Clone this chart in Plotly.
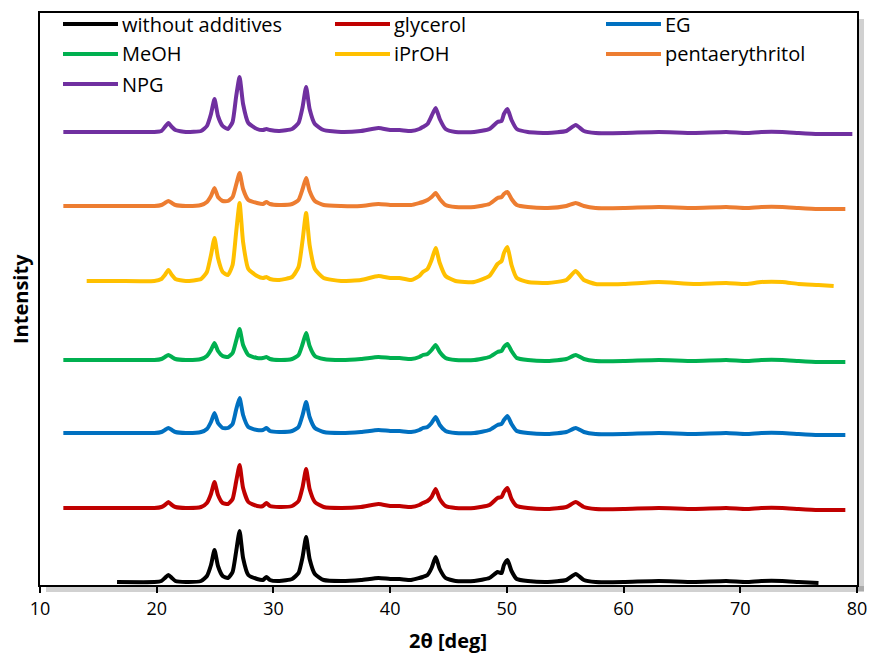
import plotly.graph_objects as go

# 2-theta sampling positions (deg)
two_theta = [12.0, 14.0, 16.6, 19.8, 20.4, 20.7, 21.0, 21.3, 21.6, 22.5,
             23.8, 24.3, 24.65, 24.95, 25.25, 25.65, 26.1, 26.5, 26.8, 27.1,
             27.4, 27.85, 28.6, 29.1, 29.4, 29.7, 30.5, 31.6, 32.15, 32.5,
             32.8, 33.1, 33.55, 34.3, 35.8, 37.5, 39.0, 40.0, 40.8, 41.8,
             42.5, 42.8, 43.2, 43.55, 43.9, 44.25, 44.75, 45.6, 47.2, 48.5,
             49.2, 49.55, 49.75, 50.05, 50.4, 50.85, 51.8, 53.5, 55.1, 55.9,
             56.6, 57.6, 60.0, 63.0, 66.0, 68.8, 70.5, 71.8, 73.6, 75.0,
             76.7, 78.0, 79.0, 79.6]

N = None
without_additives = [N, N, 3, 3, 4, 7, 10, 7, 4, 3,
                     4, 9, 20, 35, 19, 9, 7, 13, 33, 54,
                     27, 10, 6, 5, 8, 5, 4, 6, 12, 28,
                     48, 26, 11, 5, 4, 5, 7, 6, 6, 5,
                     7, 8, 10, 17, 28, 16, 7, 4, 4, 7,
                     13, 12, 20, 25, 14, 6, 4, 3, 5, 11,
                     5, 3, 3, 4, 3, 4, 3, 4, 4, 3,
                     2, N, N, N]
glycerol = [77, 77, 77, 77, 78, 80, 83, 80, 78, 77,
            78, 82, 91, 103, 90, 82, 81, 86, 103, 120,
            97, 83, 79, 79, 82, 79, 78, 79, 84, 98,
            116, 96, 83, 78, 77, 78, 81, 79, 79, 78,
            80, 82, 84, 88, 96, 86, 79, 77, 77, 80,
            87, 88, 93, 97, 86, 79, 77, 76, 78, 83,
            78, 76, 76, 77, 76, 77, 76, 77, 77, 76,
            75, 75, 75, N]
eg = [152, 152, 152, 152, 153, 155, 157, 155, 153, 152,
      153, 156, 163, 172, 162, 157, 157, 161, 175, 187,
      170, 158, 155, 155, 157, 154, 153, 154, 158, 170,
      183, 168, 157, 153, 152, 153, 155, 154, 154, 153,
      155, 157, 158, 162, 168, 160, 154, 152, 152, 155,
      160, 161, 165, 169, 161, 154, 152, 151, 153, 157,
      153, 151, 151, 152, 151, 152, 151, 152, 152, 151,
      150, 150, 150, N]
meoh = [225, 225, 225, 225, 226, 228, 230, 228, 226, 225,
        226, 229, 235, 242, 234, 229, 228, 232, 244, 256,
        240, 230, 227, 227, 228, 226, 225, 226, 230, 241,
        252, 239, 229, 226, 225, 226, 228, 227, 227, 226,
        228, 230, 231, 235, 240, 233, 227, 225, 225, 228,
        233, 234, 238, 241, 234, 227, 225, 224, 226, 230,
        226, 224, 224, 225, 224, 225, 224, 225, 225, 224,
        223, 223, 223, N]
iproh = [N, 304, 304, 304, 306, 310, 315, 310, 306, 304,
         306, 313, 330, 347, 327, 313, 310, 320, 352, 382,
         343, 316, 309, 307, 308, 306, 305, 308, 318, 345,
         372, 340, 316, 307, 304, 305, 309, 307, 307, 305,
         309, 313, 316, 325, 337, 322, 309, 304, 303, 309,
         321, 324, 332, 338, 320, 307, 303, 302, 305, 314,
         305, 301, 301, 303, 301, 302, 301, 303, 303, 301,
         300, 299, N, N]
pentaerythritol = [379, 379, 379, 379, 380, 382, 384, 382, 380, 379,
                   380, 383, 389, 397, 388, 384, 384, 388, 400, 412,
                   396, 385, 382, 381, 383, 381, 380, 381, 385, 396,
                   407, 394, 384, 380, 379, 379, 381, 380, 380, 380,
                   382, 383, 385, 388, 392, 386, 380, 378, 378, 381,
                   387, 388, 391, 393, 386, 380, 378, 377, 379, 382,
                   379, 377, 377, 378, 377, 378, 377, 378, 378, 377,
                   376, 376, 376, N]
npg = [453, 453, 453, 453, 454, 458, 462, 458, 455, 453,
       454, 459, 471, 486, 469, 459, 456, 463, 488, 508,
       481, 462, 456, 455, 456, 455, 454, 456, 462, 478,
       498, 476, 461, 455, 453, 454, 457, 455, 455, 454,
       456, 458, 461, 469, 477, 466, 456, 453, 453, 456,
       463, 464, 471, 476, 465, 456, 453, 452, 454, 460,
       454, 452, 452, 453, 452, 453, 452, 453, 453, 452,
       451, 451, 451, 451]

series_names = ["without additives", "glycerol", "EG", "MeOH", "iPrOH",
                "pentaerythritol", "NPG"]
series_values = [without_additives, glycerol, eg, meoh, iproh,
                 pentaerythritol, npg]
series_colors = ["#000000", "#C00000", "#0070C0", "#00B050", "#FFC000",
                 "#ED7D31", "#7030A0"]
x_ticks = [10, 20, 30, 40, 50, 60, 70, 80]

FONT = "Open Sans"
W, H = 870, 655
L, R, T, B = 40, 13, 13, 70
PW, PH = W - L - R, H - T - B


def px(xp):
    return (xp - L) / PW


def py(yp):
    return (H - B - yp) / PH


fig = go.Figure()
for name, vals, col in zip(series_names, series_values, series_colors):
    fig.add_trace(go.Scatter(x=two_theta, y=vals, mode="lines", name=name,
                             line=dict(color=col, width=4, shape="spline",
                                       smoothing=0.5),
                             connectgaps=False, showlegend=False,
                             hoverinfo="skip"))

shapes = []
annotations = []
# shadow of the frame
shapes.append(dict(type="rect", xref="paper", yref="paper",
                   x0=px(L + PW + 1), x1=px(L + PW + 7), y0=py(T + 6), y1=py(T + PH + 6),
                   fillcolor="rgba(0,0,0,0.18)", line=dict(width=0), layer="below"))
shapes.append(dict(type="rect", xref="paper", yref="paper",
                   x0=px(L + 6), x1=px(L + PW + 7), y0=py(T + PH + 1), y1=py(T + PH + 7),
                   fillcolor="rgba(0,0,0,0.18)", line=dict(width=0), layer="below"))

# manual legend, 3 columns
col_x = [63, 335, 606]
row_y = [24, 54, 84]
for i, (name, col) in enumerate(zip(series_names, series_colors)):
    cx = col_x[i % 3]
    ry = row_y[i // 3]
    shapes.append(dict(type="line", xref="paper", yref="paper",
                       x0=px(cx), x1=px(cx + 55), y0=py(ry), y1=py(ry),
                       line=dict(color=col, width=4)))
    annotations.append(dict(xref="paper", yref="paper", x=px(cx + 57), y=py(ry),
                            text=name, showarrow=False, xanchor="left",
                            yanchor="middle",
                            font=dict(family=FONT, size=20, color="#000000")))

# axis titles as annotations
annotations.append(dict(xref="paper", yref="paper", x=px(448), y=py(640),
                        text="<b>2θ [deg]</b>", showarrow=False,
                        xanchor="center", yanchor="middle",
                        font=dict(family=FONT, size=20, color="#000000")))
annotations.append(dict(xref="paper", yref="paper", x=px(20), y=py(299),
                        text="<b>Intensity</b>", showarrow=False, textangle=-90,
                        xanchor="center", yanchor="middle",
                        font=dict(family=FONT, size=20, color="#000000")))

fig.update_layout(
    width=W, height=H,
    margin=dict(l=L, r=R, t=T, b=B, autoexpand=False),
    paper_bgcolor="white", plot_bgcolor="white",
    shapes=shapes, annotations=annotations,
    font=dict(family=FONT, color="#000000"),
    hovermode=False,
    xaxis=dict(range=[10, 80], tickvals=x_ticks, ticks="outside", ticklen=6,
               tickwidth=1.5, tickcolor="black", showline=True, linecolor="black",
               linewidth=2, mirror=True, showgrid=False, zeroline=False,
               automargin=False,
               tickfont=dict(family=FONT, size=18, color="#000000")),
    yaxis=dict(range=[0, 572], showticklabels=False, ticks="", showline=True,
               linecolor="black", linewidth=2, mirror=True, showgrid=False,
               zeroline=False, automargin=False),
)

fig.write_html("out.html", config={"displayModeBar": False},
               post_script="document.body.style.margin='0';document.body.style.overflow='hidden';")
